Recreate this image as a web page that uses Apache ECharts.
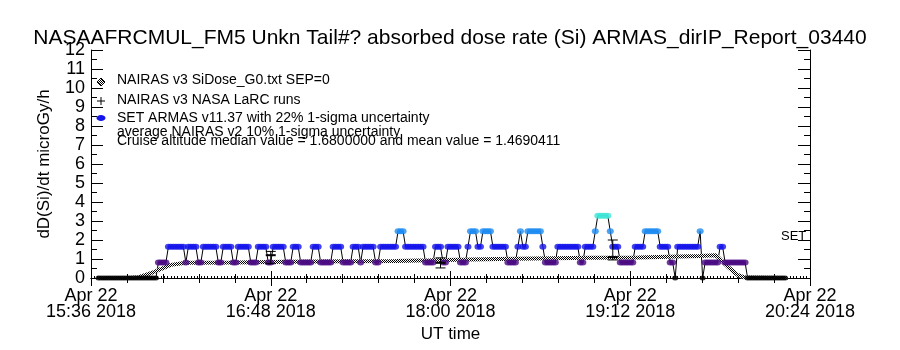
<!DOCTYPE html>
<html>
<head>
<meta charset="utf-8">
<script src="https://cdn.jsdelivr.net/npm/echarts@6/dist/echarts.min.js"></script>
<style>
html, body { margin: 0; background: #fff; }
#chart { width: 900px; height: 350px; }
</style>
</head>
<body>
<div id="chart"></div>
<script>
// x axis: minutes of the day (UT), ticks every 72 min
const timeMin = '15:36';
const timeMax = '20:24';
const tickDate = 'Apr 22';
const tickYear = '2018';

// NAIRAS v3 SiDose_G0 model curve
const nairasTimes = ['15:39', '15:51', '15:55', '16:00', '16:08', '16:14', '16:34', '16:54', '17:18', '17:38', '17:52',
  '18:19', '18:56', '19:15', '19:40', '19:46', '19:47', '19:51', '19:55', '19:58', '20:15'];
const nairasDose = [0, 0, 0.04, 0.25, 0.69, 0.8, 0.82, 0.85, 0.88, 0.9, 0.93,
  1.0, 1.07, 1.08, 1.16, 1.2, 1.12, 0.6, 0.16, 0.02, 0];

// NAIRAS v3 NASA LaRC runs, with error bars
const larcTimes = ['16:48', '17:56', '19:05'];
const larcDose = [1.2, 0.8, 1.1];
const larcLow = [0.75, 0.53, 0.95];
const larcHigh = [1.4, 1.06, 2.0];

// SET ARMAS, one sample per minute from armasStart
const armasStart = '15:39';
const armasDose = [
  0, 0, 0, 0, 0, 0, 0, 0, 0, 0, 0, 0, 0, 0, 0, 0, 0, 0, 0, 0, 0, 0, 0, 0,
  0.82, 0.82, 0.82, 0.82, 1.64, 1.64, 1.64, 1.64, 1.64, 1.64, 1.64, 0.82,
  1.64, 1.64, 1.64, 1.64, 0.82, 0.82, 1.64, 1.64, 1.64, 1.64, 1.64, 1.64,
  0.82, 0.82, 1.64, 1.64, 1.64, 1.64, 0.82, 0.82, 1.64, 1.64, 1.64, 1.64, 1.64,
  0.82, 0.82, 0.82, 1.64, 1.64, 1.64, 1.64, 0.82, 0.82, 1.64, 1.64, 1.64, 1.64, 1.64,
  0.82, 0.82, 0.82, 1.64, 1.64, 1.64, 0.82, 0.82, 0.82, 0.82, 0.82, 1.64, 1.64, 1.64,
  0.82, 0.82, 0.82, 0.82, 0.82, 1.64, 1.64, 1.64, 1.64, 0.82, 0.82, 0.82, 0.82,
  1.64, 1.64, 1.64, 0.82, 1.64, 1.64, 1.64, 1.64, 1.64, 0.82, 0.82,
  1.64, 1.64, 1.64, 1.64, 1.64, 1.64, 1.64, 2.46, 2.46, 2.46,
  1.64, 1.64, 1.64, 1.64, 1.64, 1.64, 1.64, 1.64, 0.82, 0.82, 0.82, 0.82,
  1.64, 1.64, 1.64, 0.82, 0.82, 1.64, 1.64, 1.64, 1.64, 1.64, 0.82, 0.82, 0.82,
  1.64, 2.46, 2.46, 2.46, 1.64, 1.64, 2.46, 2.46, 2.46, 2.46,
  1.64, 1.64, 1.64, 1.64, 1.64, 1.64, 0.82, 0.82, 0.82, 0.82,
  1.64, 2.46, 1.64, 1.64, 2.46, 2.46, 2.46, 2.46, 2.46, 2.46, 1.64,
  0.82, 0.82, 0.82, 0.82, 0.82, 1.64, 1.64, 1.64, 1.64, 1.64, 1.64, 1.64, 1.64, 1.64,
  0.82, 0.82, 1.64, 1.64, 1.64, 1.64, 2.46, 3.28, 3.28, 3.28, 3.28, 3.28, 2.46,
  1.64, 1.64, 1.64, 0.82, 0.82, 0.82, 0.82, 0.82, 0.82, 1.64, 1.64, 1.64, 1.64,
  2.46, 2.46, 2.46, 2.46, 2.46, 2.46, 1.64, 1.64, 1.64, 1.64, 0.82, 0.82, 0,
  1.64, 1.64, 1.64, 1.64, 1.64, 1.64, 1.64, 1.64, 1.64, 2.46, 0,
  0.82, 0.82, 0.82, 0.82, 0.82, 0.82, 1.64, 1.64,
  0.82, 0.82, 0.82, 0.82, 0.82, 0.82, 0.82, 0.82, 0.82,
  0, 0, 0, 0, 0, 0, 0, 0, 0, 0, 0, 0, 0, 0, 0, 0
];

const FONT = 'Liberation Sans';

function toMin(s) {
  const p = s.split(':').map(Number);
  return p[0] * 60 + p[1];
}
function pad(n) {
  return (n < 10 ? '0' : '') + n;
}
function levelColor(v) {
  if (v === 0) return '#000000';
  if (v < 1) return '#4a0a82';
  if (v < 2) return '#1414ec';
  if (v < 3) return '#1e8cf2';
  return '#3ee6d6';
}

// checkered fill, like the overlapping diamonds of the model curve
const checker = document.createElement('canvas');
checker.width = 2;
checker.height = 2;
const cctx = checker.getContext('2d');
cctx.fillStyle = '#fff';
cctx.fillRect(0, 0, 2, 2);
cctx.fillStyle = '#000';
cctx.fillRect(0, 0, 1, 1);
cctx.fillRect(1, 1, 1, 1);
const checkerPattern = { image: checker, repeat: 'repeat' };

const t0 = toMin(armasStart);
const armasLine = armasDose.map(function (v, i) { return [t0 + i, v]; });
const armasDots = armasDose.map(function (v, i) {
  return {
    value: [t0 + i, v],
    symbolSize: v === 0 ? [6, 5] : [7, 6],
    itemStyle: { color: levelColor(v) }
  };
});
const nairasData = nairasTimes.map(function (t, i) { return [toMin(t), nairasDose[i]]; });
const larcData = larcTimes.map(function (t, i) { return [toMin(t), larcDose[i], larcLow[i], larcHigh[i]]; });

const xMin = toMin(timeMin), xMax = toMin(timeMax);
const axisBlack = { lineStyle: { color: '#000', width: 1 } };

const legendLines = [
  'NAIRAS v3 SiDose_G0.txt SEP=0',
  'NAIRAS v3 NASA LaRC runs',
  'SET ARMAS v11.37 with 22% 1-sigma uncertainty',
  'average NAIRAS v2 10% 1-sigma uncertainty',
  'Cruise altitude median value = 1.6800000 and mean value = 1.4690411'
];
const legendY = [80, 100, 118, 132, 141];

const option = {
  animation: false,
  backgroundColor: '#fff',
  title: {
    text: 'NASAAFRCMUL_FM5 Unkn Tail#? absorbed dose rate (Si) ARMAS_dirIP_Report_03440',
    left: 'center',
    top: 23,
    textStyle: { fontFamily: FONT, fontSize: 21, fontWeight: 'normal', color: '#000' }
  },
  grid: { left: 91, right: 90, top: 50, bottom: 72 },
  xAxis: [
    {
      type: 'value', min: xMin, max: xMax, interval: 72, position: 'bottom',
      axisLine: axisBlack,
      axisTick: { inside: true, length: 7, lineStyle: { color: '#000' } },
      minorTick: { show: true, splitNumber: 5, length: 4, lineStyle: { color: '#000' } },
      splitLine: { show: false },
      axisLabel: {
        color: '#000', fontFamily: FONT, fontSize: 18, lineHeight: 16, margin: 10,
        formatter: function (m) {
          return tickDate + '\n' + pad(Math.floor(m / 60)) + ':' + pad(m % 60) + ' ' + tickYear;
        }
      },
      name: 'UT time', nameLocation: 'middle', nameGap: 44,
      nameTextStyle: { color: '#000', fontFamily: FONT, fontSize: 17 }
    },
    {
      type: 'value', min: xMin, max: xMax, interval: 72, position: 'top',
      axisLine: axisBlack,
      axisTick: { inside: true, length: 8, lineStyle: { color: '#000' } },
      minorTick: { show: true, splitNumber: 5, length: 5, lineStyle: { color: '#000' } },
      splitLine: { show: false },
      axisLabel: { show: false }
    },
    {
      type: 'value', min: xMin, max: xMax, interval: 72, position: 'bottom',
      axisLine: { show: false },
      axisTick: { show: true, inside: true, length: 2, lineStyle: { color: '#000' } },
      minorTick: { show: true, splitNumber: 54, length: 2, lineStyle: { color: '#000' } },
      splitLine: { show: false },
      axisLabel: { show: false }
    }
  ],
  yAxis: [
    {
      type: 'value', min: 0, max: 12, interval: 1, position: 'left',
      axisLine: { show: true, lineStyle: { color: '#000', width: 1 } },
      axisTick: { inside: true, length: 12, lineStyle: { color: '#000' } },
      minorTick: { show: true, splitNumber: 2, length: 6, lineStyle: { color: '#000' } },
      splitLine: { show: false },
      axisLabel: { color: '#000', fontFamily: FONT, fontSize: 18, margin: 6 },
      name: 'dD(Si)/dt microGy/h', nameLocation: 'middle', nameGap: 38, nameRotate: 90,
      nameTextStyle: { color: '#000', fontFamily: FONT, fontSize: 17 }
    },
    {
      type: 'value', min: 0, max: 12, interval: 1, position: 'right',
      axisLine: { show: true, lineStyle: { color: '#000', width: 1 } },
      axisTick: { inside: true, length: 12, lineStyle: { color: '#000' } },
      minorTick: { show: true, splitNumber: 2, length: 6, lineStyle: { color: '#000' } },
      splitLine: { show: false },
      axisLabel: { show: false }
    }
  ],
  series: [
    {
      name: 'SET ARMAS line',
      type: 'line',
      data: armasLine,
      symbol: 'none',
      lineStyle: { color: '#000', width: 1 },
      z: 2
    },
    {
      name: 'NAIRAS G0',
      type: 'line',
      data: nairasData,
      symbol: 'none',
      lineStyle: { color: checkerPattern, width: 4 },
      z: 3
    },
    {
      name: 'SET ARMAS',
      type: 'scatter',
      data: armasDots,
      symbol: 'circle',
      z: 4
    },
    {
      name: 'LaRC',
      type: 'custom',
      data: larcData,
      z: 5,
      renderItem: function (params, api) {
        const p = api.coord([api.value(0), api.value(1)]);
        const lo = api.coord([api.value(0), api.value(2)]);
        const hi = api.coord([api.value(0), api.value(3)]);
        const st = { stroke: '#000', lineWidth: 1 };
        return {
          type: 'group',
          children: [
            { type: 'line', shape: { x1: p[0], y1: hi[1], x2: p[0], y2: lo[1] }, style: st },
            { type: 'line', shape: { x1: p[0] - 5, y1: hi[1], x2: p[0] + 5, y2: hi[1] }, style: st },
            { type: 'line', shape: { x1: p[0] - 5, y1: lo[1], x2: p[0] + 5, y2: lo[1] }, style: st },
            { type: 'line', shape: { x1: p[0] - 5, y1: p[1], x2: p[0] + 5, y2: p[1] }, style: { stroke: '#000', lineWidth: 2 } }
          ]
        };
      }
    }
  ],
  graphic: [
    { type: 'polygon', shape: { points: [[101, 78], [105, 82], [101, 86], [97, 82]] }, style: { fill: checkerPattern, stroke: '#000', lineWidth: 1 } },
    { type: 'line', shape: { x1: 97, y1: 101, x2: 105, y2: 101 }, style: { stroke: '#000', lineWidth: 1 } },
    { type: 'line', shape: { x1: 101, y1: 97, x2: 101, y2: 105 }, style: { stroke: '#000', lineWidth: 1 } },
    { type: 'ellipse', shape: { cx: 101, cy: 118, rx: 4.5, ry: 3 }, style: { fill: '#1414ec' } },
    { type: 'text', left: 781, top: 230, style: { text: 'SET', font: '13px "Liberation Sans"', fill: '#000' } }
  ].concat(legendLines.map(function (s, i) {
    return {
      type: 'text', x: 117, y: legendY[i],
      style: { text: s, font: '14px "Liberation Sans"', fill: '#000', verticalAlign: 'middle' }
    };
  }))
};

const chart = echarts.init(document.getElementById('chart'));
chart.setOption(option);
</script>
</body>
</html>
